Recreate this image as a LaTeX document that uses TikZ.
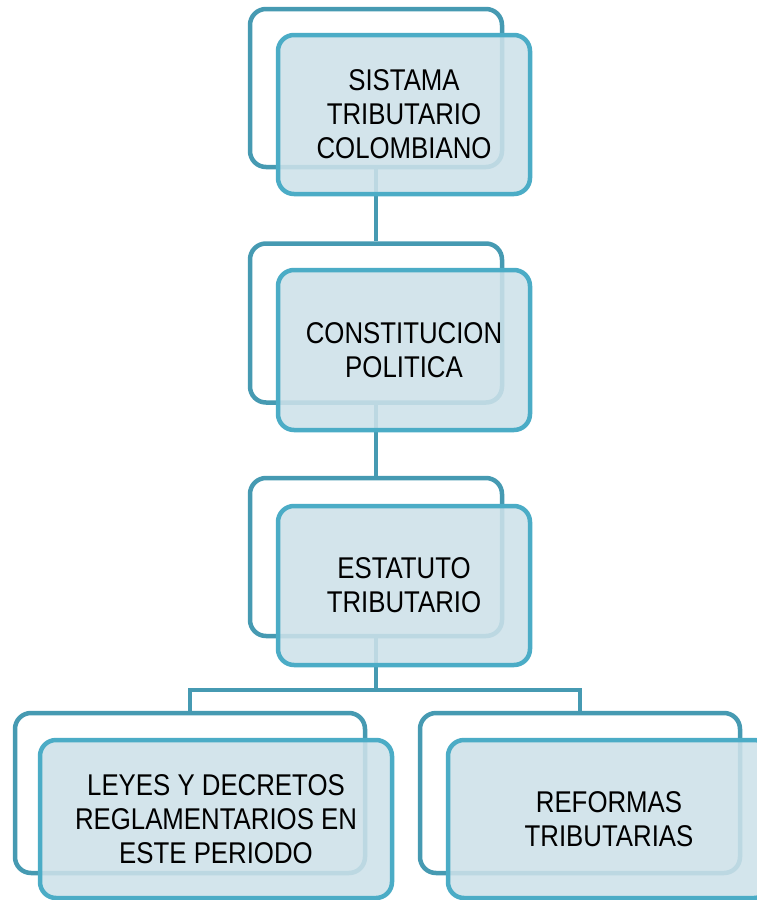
\documentclass[tikz,border=0pt]{standalone}
\usepackage{fontspec}
\setmainfont{Liberation Sans}[FakeStretch=0.86]
\usepackage{tikz}
\usepackage{xcolor}
\definecolor{edgeback}{RGB}{70,154,178}
\definecolor{edgefront}{RGB}{75,172,198}
\definecolor{boxfill}{RGB}{205,225,233}

\begin{document}
\begin{tikzpicture}[x=1pt, y=-1pt,
        back/.style={draw=edgeback, line width=4.5pt, rounded corners=16pt, fill=white},
        front/.style={draw=edgefront, line width=4.5pt, rounded corners=16pt,
            fill=boxfill, fill opacity=0.88, text opacity=1, align=center,
            font=\fontsize{30}{34}\selectfont},
        link/.style={draw=edgeback, line width=4.5pt}]
        \useasboundingbox (0,0) rectangle (757,900);

        \node [back, minimum width=252pt, minimum height=158pt] (b1) at (376,88) {};
        \node [back, minimum width=252pt, minimum height=159pt] (b2) at (376,323) {};
        \node [back, minimum width=252pt, minimum height=158pt] (b3) at (376,557) {};
        \node [back, minimum width=350pt, minimum height=160pt] (b4) at (190,793) {};
        \node [back, minimum width=320pt, minimum height=160pt] (b5) at (580,793) {};

        \coordinate (split) at (376,690);
        \draw [link] (b1.south) -- (b2.north);
        \draw [link] (b2.south) -- (b3.north);
        \draw [link] (b3.south) -- (split);
        \draw [link] (b4.north) |- (split) -| (b5.north);

        \node [front, minimum width=252pt, minimum height=159pt] (sistema) at (404,114.5) {SISTAMA\\TRIBUTARIO\\COLOMBIANO};
        \node [front, minimum width=252pt, minimum height=160pt] (constitucion) at (404,350) {CONSTITUCION\\POLITICA};
        \node [front, minimum width=252pt, minimum height=159pt] (estatuto) at (404,585.5) {ESTATUTO\\TRIBUTARIO};
        \node [front, minimum width=352pt, minimum height=158pt] (leyes) at (216,819) {LEYES Y DECRETOS\\REGLAMENTARIOS EN\\ESTE PERIODO};
        \node [front, minimum width=322pt, minimum height=158pt] (reformas) at (609,819) {REFORMAS\\TRIBUTARIAS};
\end{tikzpicture}
\end{document}
